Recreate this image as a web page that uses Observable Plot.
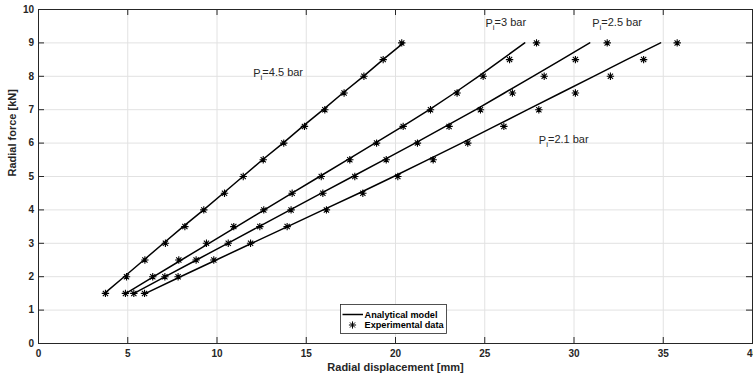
<!DOCTYPE html>
<html><head><meta charset="utf-8">
<script src="https://cdn.jsdelivr.net/npm/d3@7"></script>
<script src="https://cdn.jsdelivr.net/npm/@observablehq/plot@0.6"></script>
<style>body{margin:0;background:#fff}</style>
</head><body><div id="chart"></div>
<script>
// ---- data ----
const forces = [1.5,2,2.5,3,3.5,4,4.5,5,5.5,6,6.5,7,7.5,8,8.5,9]; // kN
const pressures = ["4.5 bar","3 bar","2.5 bar","2.1 bar"];
// experimental radial displacement [mm] at each force
const exp45 = [3.75,4.93,5.96,7.11,8.2,9.26,10.42,11.47,12.59,13.74,14.9,16.04,17.12,18.23,19.31,20.35];
const exp30 = [4.87,6.4,7.86,9.41,10.94,12.62,14.21,15.84,17.44,18.94,20.43,21.96,23.45,24.91,26.39,27.9];
const exp25 = [5.34,7.08,8.83,10.63,12.4,14.15,15.93,17.72,19.48,21.23,23.0,24.76,26.55,28.33,30.08,31.86];
const exp21 = [5.94,7.82,9.82,11.88,13.93,16.13,18.17,20.13,22.11,24.05,26.07,28.03,30.08,32.04,33.9,35.78];
// analytical model displacement [mm] at each force
const mod45 = [3.7,4.8,5.9,7.0,8.1,9.25,10.35,11.45,12.55,13.7,14.8,15.95,17.05,18.2,19.3,20.45];
const mod30 = [4.9,6.45,8.0,9.55,11.1,12.65,14.2,15.75,17.3,18.85,20.4,21.9,23.3,24.65,25.95,27.24];
const mod25 = [5.35,7.1,8.85,10.6,12.35,14.1,15.85,17.6,19.35,21.1,22.8,24.5,26.1,27.7,29.3,30.88];
const mod21 = [6.0,7.95,9.95,11.95,13.95,15.95,17.95,19.9,21.8,23.7,25.55,27.4,29.25,31.1,32.95,34.85];
// annotation labels
const labelX = [12.03, 25.04, 31.02, 28.03];
const labelY = [8.08, 9.57, 9.57, 6.07];
const xTicks = [0,5,10,15,20,25,30,35,40];
const yTicks = [0,1,2,3,4,5,6,7,8,9,10];
const xLabel = "Radial displacement [mm]";
const yLabel = "Radial force [kN]";
const legendItems = ["Analytical model","Experimental data"];

// ---- tables ----
const expSets = [exp45, exp30, exp25, exp21];
const modSets = [mod45, mod30, mod25, mod21];
const expData = pressures.flatMap((p,k) => forces.map((f,i) => ({p, x: expSets[k][i], y: f})));
const modData = pressures.flatMap((p,k) => forces.map((f,i) => ({p, x: modSets[k][i], y: f})));
const labels = pressures.map((p,k) => ({t: "P_i=" + p, x: labelX[k], y: labelY[k]}));

const asterisk = {
  draw(ctx, size) {
    const r = Math.sqrt(size / Math.PI), d = r * Math.SQRT1_2;
    ctx.moveTo(0, -r); ctx.lineTo(0, r);
    ctx.moveTo(-r, 0); ctx.lineTo(r, 0);
    ctx.moveTo(-d, -d); ctx.lineTo(d, d);
    ctx.moveTo(-d, d); ctx.lineTo(d, -d);
  }
};

const W = 753, H = 381, mL = 38, mR = 1, mT = 9, mB = 38;
const fw = W - mL - mR, fh = H - mT - mB, tick = 6;
const ink = "#262626";
const font = "'Liberation Sans', Arial, Helvetica, sans-serif";

const plot = Plot.plot({
  width: W, height: H,
  marginLeft: mL, marginRight: mR, marginTop: mT, marginBottom: mB,
  style: {fontFamily: font, fontSize: "10px", background: "#fff"},
  x: {domain: [0, 40]},
  y: {domain: [0, 10]},
  marks: [
    Plot.ruleX(xTicks, {stroke: "#e2e2e2"}),
    Plot.ruleY(yTicks, {stroke: "#e2e2e2"}),
    Plot.line(modData, {x: "x", y: "y", z: "p", stroke: "black", strokeWidth: 1.5}),
    Plot.dot(expData, {x: "x", y: "y", symbol: asterisk, r: 3.7, stroke: "black", strokeWidth: 1.1}),
    Plot.text(labels, {x: "x", y: "y", text: "t", textAnchor: "start", fontSize: 11, fill: ink}),
    Plot.frame({stroke: ink}),
    Plot.ruleX(xTicks, {stroke: ink, insetTop: fh - tick}),
    Plot.ruleX(xTicks, {stroke: ink, insetBottom: fh - tick}),
    Plot.ruleY(yTicks, {stroke: ink, insetRight: fw - tick}),
    Plot.ruleY(yTicks, {stroke: ink, insetLeft: fw - tick}),
    Plot.axisX({ticks: xTicks, tickSize: 0, tickPadding: 6, label: null, fontWeight: "bold", fill: ink}),
    Plot.axisY({ticks: yTicks, tickSize: 0, tickPadding: 4.5, label: null, fontWeight: "bold", fill: ink}),
    Plot.text([xLabel], {frameAnchor: "bottom", dy: 27, text: d => d, fontSize: 11, fontWeight: "bold", fill: ink}),
    Plot.text([yLabel], {frameAnchor: "left", dx: -26, rotate: -90, text: d => d, fontSize: 11, fontWeight: "bold", fill: ink})
  ]
});

// subscripts for P_i labels
d3.select(plot).selectAll("text").each(function() {
  const s = this.textContent;
  if (s.startsWith("P_i")) {
    const t = d3.select(this);
    t.text(null);
    t.append("tspan").text("P");
    t.append("tspan").attr("dy", "0.35em").attr("font-size", "8px").text("i");
    t.append("tspan").attr("dy", "-0.35em").text(s.slice(3));
  }
});

// legend
const g = d3.select(plot).append("g")
  .attr("font-family", font).attr("text-anchor", "start")
  .attr("font-size", 9.2).attr("font-weight", "bold");
const lx = 340.5, ly = 304.5;
g.append("rect").attr("x", lx).attr("y", ly).attr("width", 106).attr("height", 29)
  .attr("fill", "white").attr("stroke", ink).attr("stroke-width", 0.8);
g.append("line").attr("x1", lx + 2).attr("x2", lx + 22.5).attr("y1", ly + 10).attr("y2", ly + 10)
  .attr("stroke", "black").attr("stroke-width", 1.5);
const p = d3.path(); asterisk.draw(p, Math.PI * 3.6 * 3.6);
g.append("path").attr("d", p.toString()).attr("transform", `translate(${lx + 12},${ly + 20.5})`)
  .attr("stroke", "black").attr("fill", "none");
legendItems.forEach((s, i) => {
  g.append("text").attr("x", lx + 24).attr("y", ly + 10 + i * 10.5).attr("dy", "0.35em").attr("fill", "black").text(s);
});

document.getElementById("chart").appendChild(plot);
</script>
</body></html>
